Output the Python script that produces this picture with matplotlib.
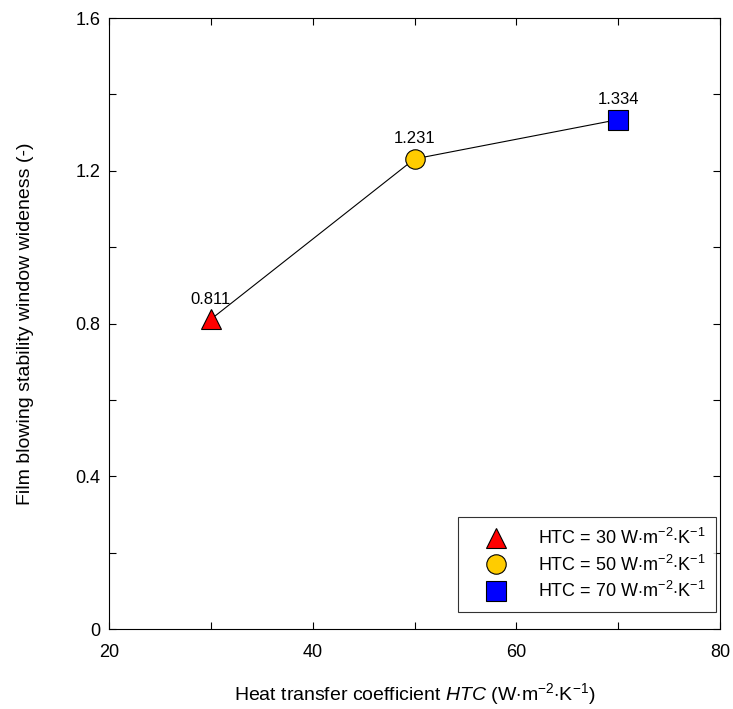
import numpy as np
import matplotlib.pyplot as plt
from matplotlib.ticker import MultipleLocator, FuncFormatter

plt.rcParams['font.family'] = ['Liberation Sans', 'DejaVu Sans']
plt.rcParams['mathtext.fontset'] = 'custom'
plt.rcParams['mathtext.rm'] = 'Liberation Sans'
plt.rcParams['mathtext.it'] = 'Liberation Sans:italic'

# data
htc = [30, 50, 70]
wideness = [0.811, 1.231, 1.334]
markers = ['^', 'o', 's']
colors = ['#FF0000', '#FFCC00', '#0000FF']
value_labels = ['0.811', '1.231', '1.334']
unit = r'W$\cdot$m$^{-2}$$\cdot$K$^{-1}$'

fig = plt.figure(figsize=(7.33, 7.09), dpi=100)
ax = fig.add_axes([0.1487, 0.1128, 0.8336, 0.8618])

ax.plot(htc, wideness, color='black', lw=0.8, zorder=2)
for x, y, m, c in zip(htc, wideness, markers, colors):
    # trailing \quad keeps the right margin of the legend box wide
    ax.plot(x, y, marker=m, ms=14, mfc=c, mec='black',
            mew=0.8, ls='none', zorder=3,
            label=f'HTC = {x} ' + unit + r'$\quad$')
for x, y, t in zip(htc, wideness, value_labels):
    ax.annotate(t, (x, y), xytext=(0, 9), textcoords='offset points',
                ha='center', va='bottom', fontsize=12)

ax.set_xlim(20, 80)
ax.set_ylim(0, 1.6)
ax.xaxis.set_major_locator(MultipleLocator(20))
ax.xaxis.set_minor_locator(MultipleLocator(10))
ax.yaxis.set_major_locator(MultipleLocator(0.4))
ax.yaxis.set_minor_locator(MultipleLocator(0.2))
ax.yaxis.set_major_formatter(FuncFormatter(lambda v, p: '0' if abs(v) < 1e-9 else f'{v:.1f}'))
ax.tick_params(which='both', direction='in', top=True, right=True,
               length=5, width=0.8, labelsize=13)
ax.tick_params(axis='x', pad=11)
ax.tick_params(axis='y', pad=6)

ax.set_xlabel(r'Heat transfer coefficient $\it{HTC}$ (' + unit + ')',
              fontsize=14, labelpad=14)
ax.set_ylabel('Film blowing stability window wideness (-)', fontsize=14,
              labelpad=30)

leg = ax.legend(loc='lower right', fontsize=13, frameon=True, fancybox=False,
                edgecolor='black', borderpad=0.6, handlelength=3.0,
                handletextpad=0.8, labelspacing=0.35, borderaxespad=0,
                bbox_to_anchor=(0.9935, 0.028))
leg.get_frame().set_linewidth(0.8)

fig.savefig('out.png', dpi=100)
